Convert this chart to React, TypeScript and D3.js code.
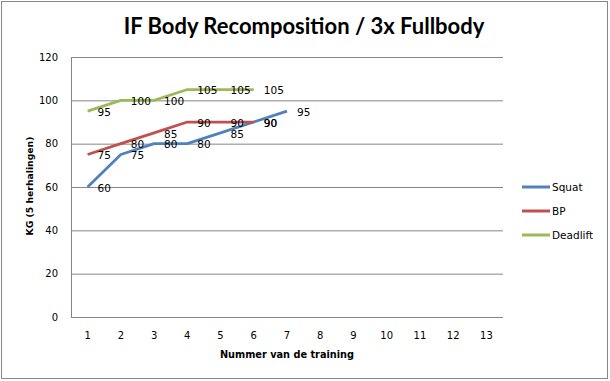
import React from "react";
import * as d3 from "d3";

const categories = [1, 2, 3, 4, 5, 6, 7, 8, 9, 10, 11, 12, 13];
const squat = [60, 75, 80, 80, 85, 90, 95];
const bp = [75, 80, 85, 90, 90, 90];
const deadlift = [95, 100, 100, 105, 105, 105];
const yTicks = [0, 20, 40, 60, 80, 100, 120];
const seriesNames = ["Squat", "BP", "Deadlift"];
const seriesColors = ["#4F81BD", "#C0504D", "#9BBB59"];

const W = 610;
const H = 381;
const plot = { left: 71, right: 503, top: 57, bottom: 317 };

export default function App() {
  const x = d3
    .scaleBand<number>()
    .domain(categories)
    .range([plot.left, plot.right])
    .padding(0);
  const cx = (c: number) => (x(c) as number) + x.bandwidth() / 2;
  const y = d3.scaleLinear().domain([0, 120]).range([plot.bottom, plot.top]);

  const series = [squat, bp, deadlift];
  const line = d3
    .line<number>()
    .x((_, i) => cx(categories[i]))
    .y((d) => y(d));

  const font = "'DejaVu Sans', Tahoma, sans-serif";

  return (
    <svg
      width={W}
      height={H}
      style={{ position: "absolute", left: 0, top: 0, background: "#fff" }}
    >
      <rect x={1.5} y={1.5} width={606} height={377} fill="#fff" stroke="#878787" strokeWidth={1} />
      <text
        x={304}
        y={34}
        textAnchor="middle"
        fontFamily="Lato, 'Open Sans', sans-serif"
        fontWeight="bold"
        fontSize={22}
        fill="#000"
      >
        IF Body Recomposition / 3x Fullbody
      </text>

      {yTicks.map((t) => (
        <g key={t}>
          {t > 0 && (
            <line x1={plot.left} x2={plot.right} y1={y(t) + 0.5} y2={y(t) + 0.5} stroke="#868686" strokeWidth={1} />
          )}
          <text
            x={58}
            y={y(t)}
            dy="0.35em"
            textAnchor="end"
            fontFamily={font}
            fontSize={10}
            fill="#000"
          >
            {t}
          </text>
        </g>
      ))}
      <line x1={plot.left + 0.5} x2={plot.left + 0.5} y1={plot.top} y2={plot.bottom + 0.5} stroke="#868686" />
      <line x1={plot.left} x2={plot.right} y1={plot.bottom + 0.5} y2={plot.bottom + 0.5} stroke="#868686" />

      {categories.map((c) => (
        <text
          key={c}
          x={cx(c)}
          y={335}
          dy="0.35em"
          textAnchor="middle"
          fontFamily={font}
          fontSize={10}
          fill="#000"
        >
          {c}
        </text>
      ))}

      {series.map((s, si) => (
        <path
          key={si}
          d={line(s) || ""}
          fill="none"
          stroke={seriesColors[si]}
          strokeWidth={2.75}
          strokeLinejoin="round"
        />
      ))}

      {series.map((s, si) =>
        s.map((v, i) => (
          <text
            key={`${si}-${i}`}
            x={cx(categories[i]) + 10}
            y={y(v) + 1}
            dy="0.35em"
            fontFamily={font}
            fontSize={10.5}
            fill="#000"
          >
            {v}
          </text>
        ))
      )}

      <text
        x={287}
        y={355}
        dy="0.35em"
        textAnchor="middle"
        fontFamily={font}
        fontWeight="bold"
        fontSize={9.75}
        fill="#000"
      >
        Nummer van de training
      </text>
      <text
        transform={`translate(30,186) rotate(-90)`}
        dy="0.35em"
        textAnchor="middle"
        fontFamily={font}
        fontWeight="bold"
        fontSize={9.25}
        fill="#000"
      >
        KG (5 herhalingen)
      </text>

      {seriesNames.map((n, i) => (
        <g key={n} transform={`translate(0, ${187 + i * 24})`}>
          <line x1={522} x2={550} y1={0} y2={0} stroke={seriesColors[i]} strokeWidth={3} />
          <text x={552} y={0} dy="0.35em" fontFamily={font} fontSize={10.5} fill="#000">
            {n}
          </text>
        </g>
      ))}
    </svg>
  );
}
